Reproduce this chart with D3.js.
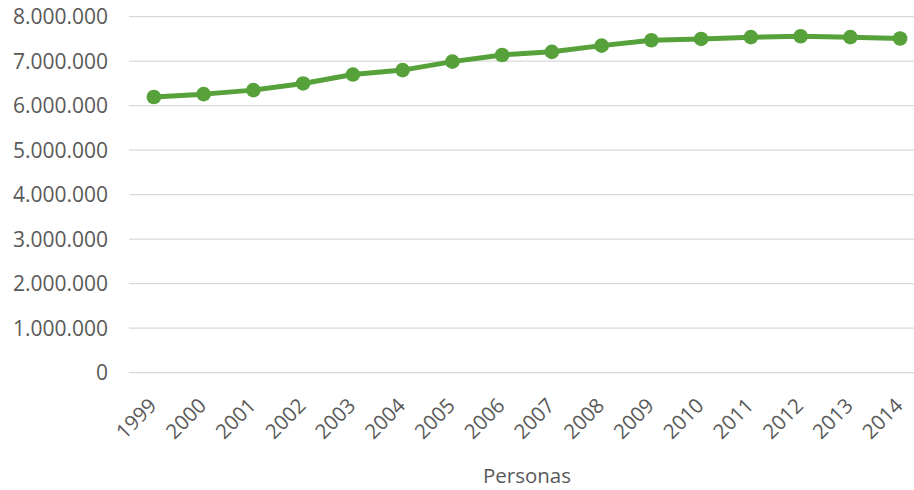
<!DOCTYPE html>
<html><head><meta charset="utf-8">
<script src="https://cdn.jsdelivr.net/npm/d3@7"></script>
<style>
body{margin:0;background:#fff;}
svg{display:block;}
text{font-family:"Open Sans",sans-serif;fill:#595959;}
</style></head>
<body>
<svg id="c" width="914" height="490"></svg>
<script>
const years = ["1999","2000","2001","2002","2003","2004","2005","2006","2007","2008","2009","2010","2011","2012","2013","2014"];
const values = [6195000,6260000,6350000,6500000,6700000,6800000,6990000,7140000,7210000,7350000,7470000,7500000,7540000,7560000,7540000,7510000];
const yTicks = [0,1000000,2000000,3000000,4000000,5000000,6000000,7000000,8000000];
const axisTitle = "Personas";

const svg = d3.select("#c");
const x = d3.scaleBand().domain(years).range([129, 925]);
const y = d3.scaleLinear().domain([0, 8000000]).range([372.7, 16.7]);
const fmt = v => d3.format(",")(v).replace(/,/g, ".");

// gridlines
svg.append("g").selectAll("line").data(yTicks).join("line")
  .attr("x1", 129).attr("x2", 925)
  .attr("y1", d => y(d)).attr("y2", d => y(d))
  .attr("stroke", "#d9d9d9").attr("stroke-width", 1.3);

// y labels
svg.append("g").selectAll("text").data(yTicks).join("text")
  .attr("x", 108).attr("y", d => y(d)).attr("dy", "0.36em")
  .attr("text-anchor", "end").style("font-size", "21px")
  .text(fmt);

// x labels
svg.append("g").selectAll("text").data(years).join("text")
  .attr("transform", d => `translate(${x(d) + x.bandwidth()/2 + 4},${407}) rotate(-45)`)
  .attr("text-anchor", "end").style("font-size", "20.5px")
  .text(d => d);

// line
const line = d3.line().x((d, i) => x(years[i]) + x.bandwidth()/2).y(d => y(d));
svg.append("path").datum(values).attr("d", line)
  .attr("fill", "none").attr("stroke", "#56a13a").attr("stroke-width", 5)
  .attr("stroke-linejoin", "round").attr("stroke-linecap", "round");

svg.append("g").selectAll("circle").data(values).join("circle")
  .attr("cx", (d, i) => x(years[i]) + x.bandwidth()/2).attr("cy", d => y(d))
  .attr("r", 7.3).attr("fill", "#56a13a");

svg.append("text").attr("x", 527).attr("y", 483).attr("text-anchor", "middle")
  .style("font-size", "20.5px").text(axisTitle);
</script>
</body></html>
